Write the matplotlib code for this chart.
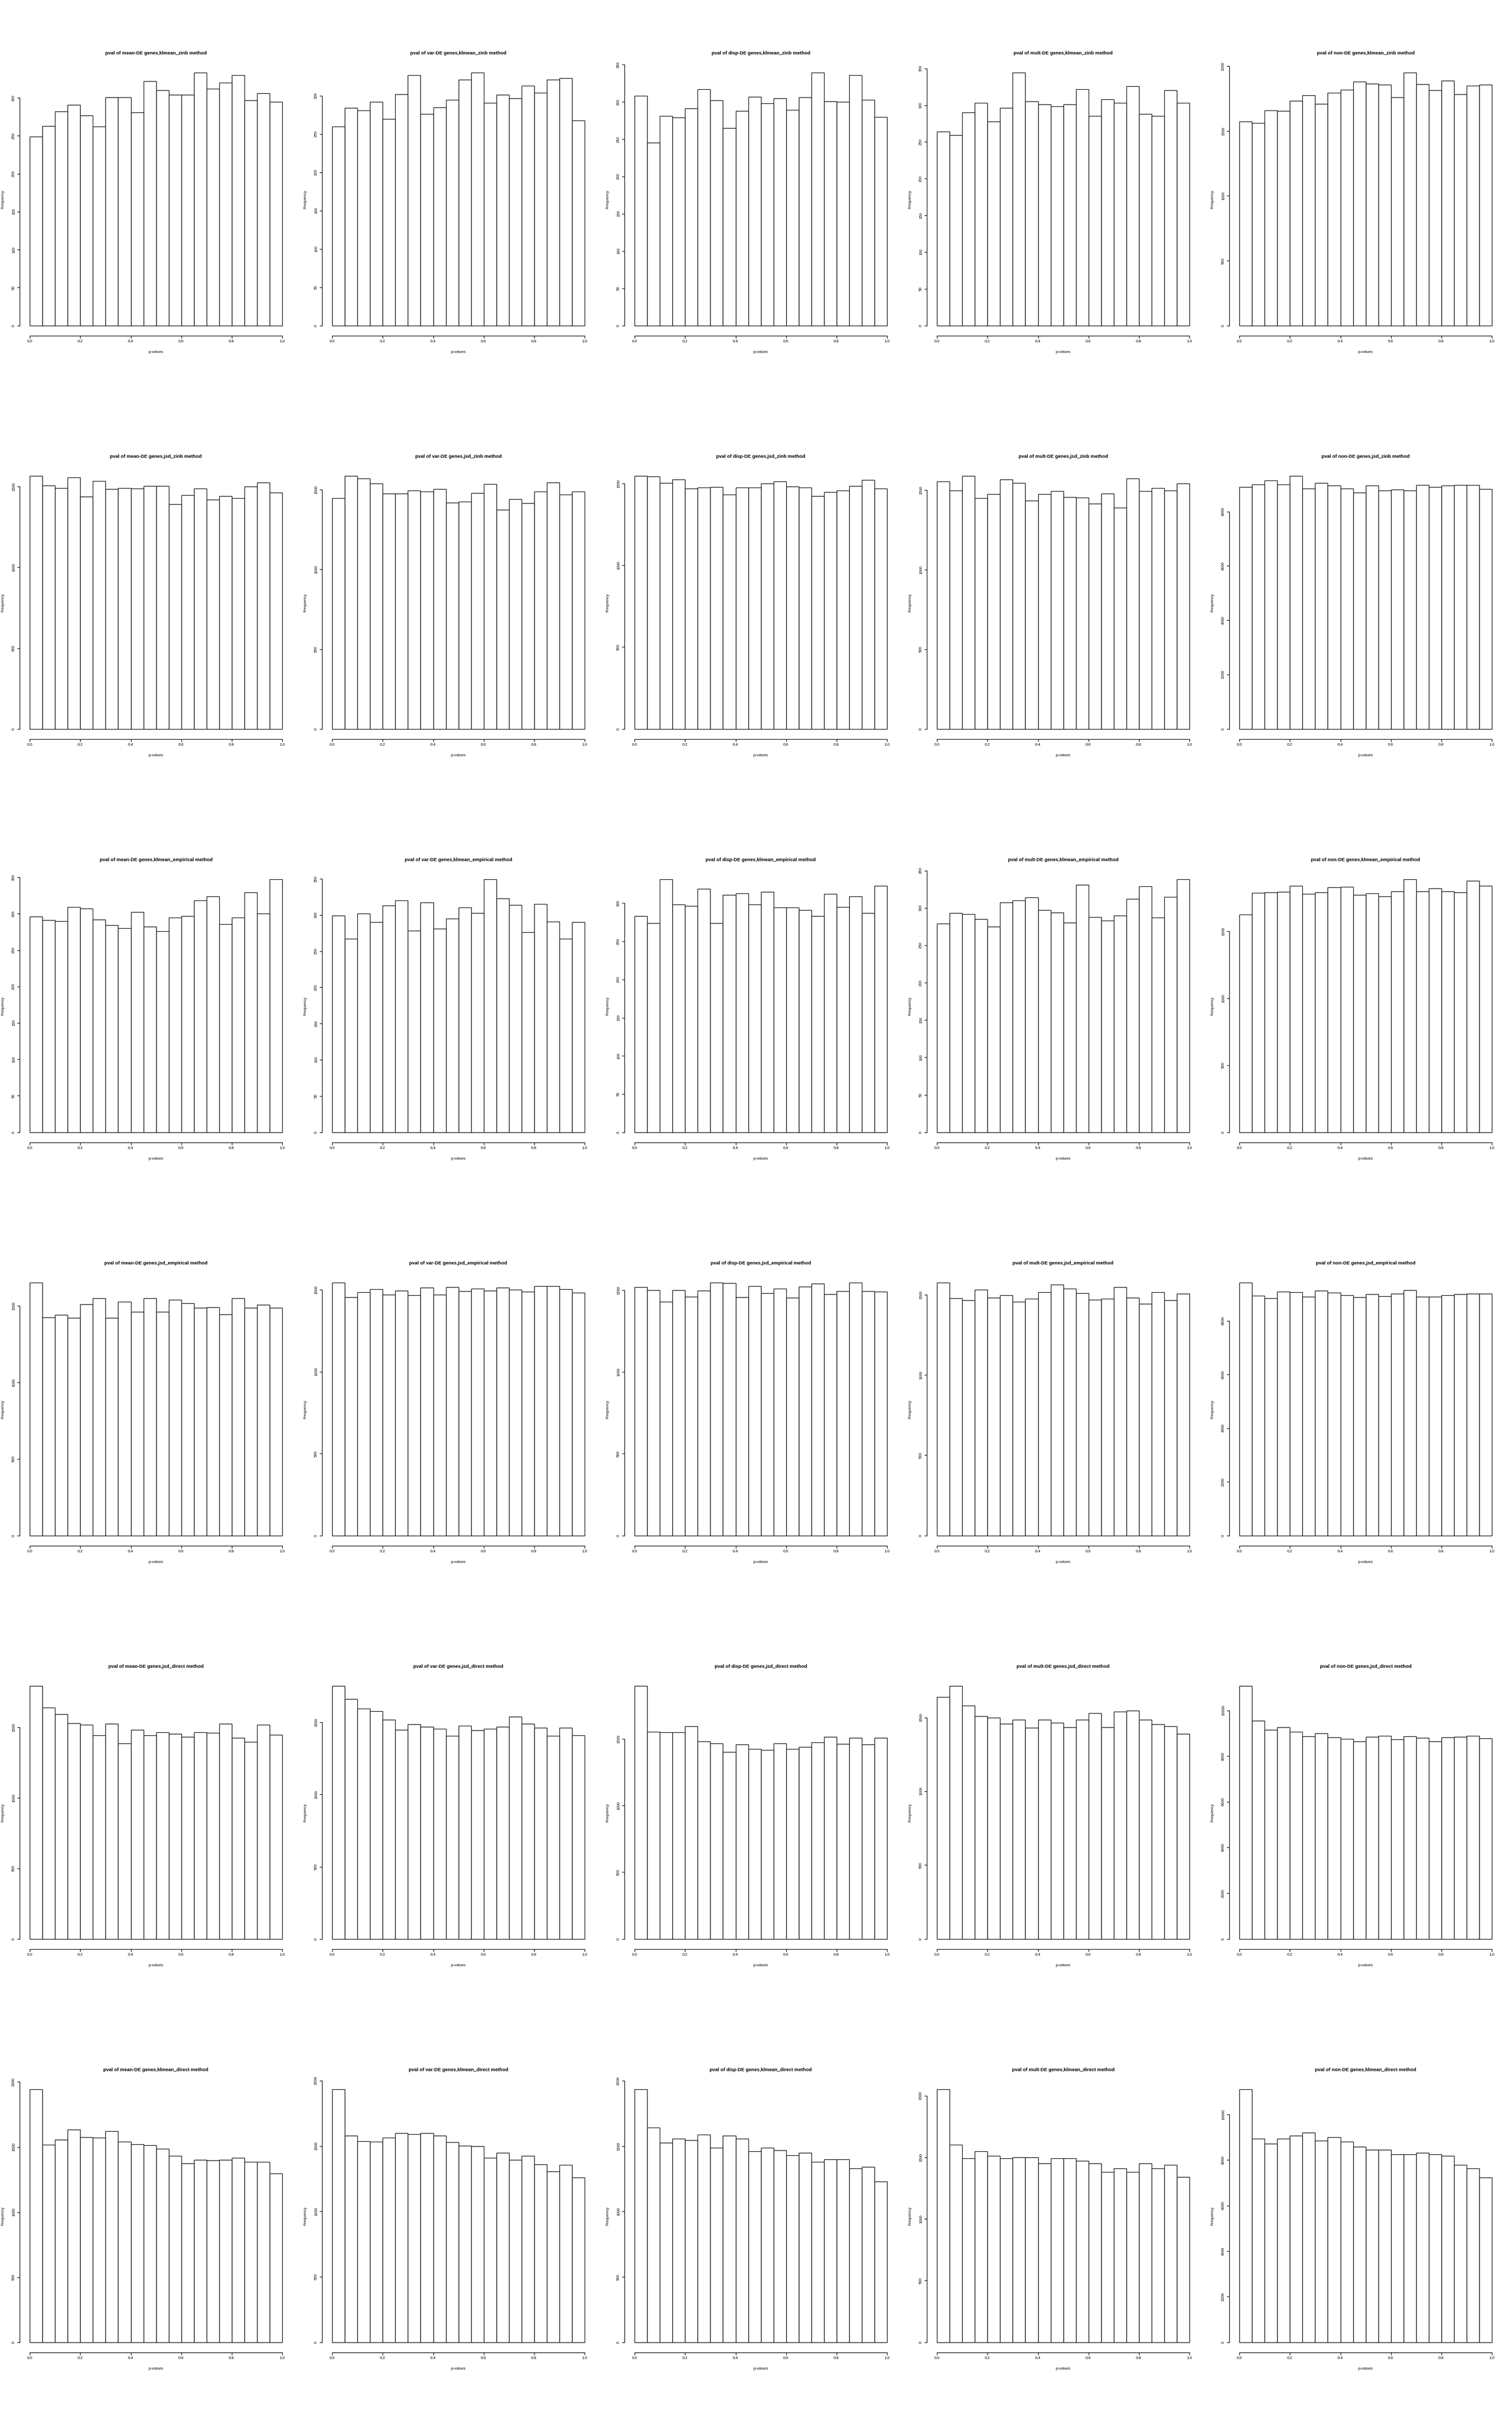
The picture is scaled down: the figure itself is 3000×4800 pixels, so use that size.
import numpy as np
import matplotlib
matplotlib.use("Agg")
import matplotlib.pyplot as plt

# ---------------- data ----------------
gene_types = ["mean-DE", "var-DE", "disp-DE", "mult-DE", "non-DE"]
methods = ["klmean_zinb", "jsd_zinb", "klmean_empirical",
           "jsd_empirical", "jsd_direct", "klmean_direct"]

bin_edges = [0.0, 0.05, 0.1, 0.15, 0.2, 0.25, 0.3, 0.35, 0.4, 0.45, 0.5,
             0.55, 0.6, 0.65, 0.7, 0.75, 0.8, 0.85, 0.9, 0.95, 1.0]
x_ticks = [0.0, 0.2, 0.4, 0.6, 0.8, 1.0]
x_tick_labels = ["0.0", "0.2", "0.4", "0.6", "0.8", "1.0"]

counts_klmean_zinb = [
    [249, 263, 282, 291, 277, 262, 301, 301, 281, 322, 310, 304, 304, 333, 312, 320, 330, 297, 306, 295],
    [260, 284, 281, 292, 270, 302, 327, 276, 285, 295, 321, 330, 291, 301, 297, 313, 304, 321, 323, 268],
    [308, 245, 281, 279, 291, 317, 302, 265, 288, 307, 298, 305, 289, 306, 339, 301, 300, 336, 303, 280],
    [264, 259, 290, 303, 278, 296, 344, 305, 301, 298, 301, 322, 285, 308, 303, 326, 288, 285, 320, 303],
    [1575, 1560, 1660, 1657, 1733, 1775, 1708, 1797, 1819, 1879, 1867, 1859, 1762, 1949, 1863, 1814, 1890, 1783, 1848, 1859],
]
counts_jsd_zinb = [
    [1565, 1508, 1492, 1556, 1439, 1534, 1485, 1492, 1488, 1505, 1505, 1392, 1448, 1488, 1421, 1441, 1430, 1501, 1527, 1464],
    [1447, 1585, 1571, 1539, 1477, 1477, 1495, 1488, 1503, 1420, 1426, 1480, 1537, 1373, 1441, 1417, 1488, 1544, 1468, 1488],
    [1545, 1543, 1504, 1524, 1468, 1477, 1480, 1432, 1476, 1476, 1499, 1511, 1481, 1475, 1424, 1448, 1456, 1484, 1521, 1468],
    [1556, 1499, 1588, 1451, 1475, 1566, 1545, 1433, 1474, 1495, 1456, 1453, 1416, 1478, 1390, 1574, 1495, 1513, 1499, 1543],
    [8909, 9000, 9136, 8992, 9303, 8841, 9053, 8962, 8841, 8705, 8955, 8780, 8818, 8780, 8977, 8909, 8955, 8985, 8970, 8826],
]
counts_klmean_empirical = [
    [296, 291, 290, 309, 307, 292, 284, 280, 302, 282, 276, 295, 297, 318, 324, 286, 295, 329, 300, 347],
    [299, 267, 302, 290, 313, 320, 278, 317, 281, 295, 310, 303, 349, 323, 314, 276, 315, 291, 267, 290],
    [283, 274, 331, 298, 296, 319, 274, 311, 313, 298, 315, 294, 294, 291, 283, 312, 295, 309, 287, 323],
    [279, 293, 292, 285, 275, 307, 310, 314, 297, 294, 280, 331, 288, 283, 290, 312, 329, 287, 315, 338],
    [1624, 1786, 1792, 1793, 1838, 1778, 1790, 1829, 1832, 1772, 1783, 1760, 1800, 1887, 1797, 1820, 1798, 1792, 1878, 1841],
]
counts_jsd_empirical = [
    [1651, 1426, 1441, 1422, 1511, 1552, 1422, 1527, 1460, 1552, 1462, 1539, 1516, 1488, 1491, 1444, 1550, 1489, 1508, 1488],
    [1543, 1456, 1486, 1505, 1472, 1494, 1467, 1515, 1470, 1516, 1492, 1508, 1495, 1515, 1500, 1489, 1524, 1524, 1503, 1484],
    [1519, 1500, 1430, 1499, 1460, 1497, 1545, 1544, 1457, 1526, 1481, 1508, 1453, 1521, 1541, 1475, 1494, 1545, 1495, 1490],
    [1574, 1477, 1465, 1532, 1482, 1496, 1455, 1474, 1515, 1562, 1537, 1509, 1470, 1476, 1546, 1481, 1445, 1517, 1464, 1505],
    [9410, 8927, 8828, 9073, 9057, 8889, 9111, 9042, 8943, 8881, 8981, 8905, 8996, 9134, 8889, 8889, 8943, 8989, 9004, 9011],
]
counts_jsd_direct = [
    [1792, 1640, 1593, 1528, 1519, 1445, 1525, 1385, 1481, 1442, 1464, 1453, 1431, 1464, 1461, 1526, 1424, 1398, 1518, 1446],
    [1751, 1662, 1595, 1577, 1518, 1447, 1487, 1469, 1454, 1407, 1477, 1444, 1456, 1470, 1539, 1491, 1464, 1405, 1462, 1409],
    [1895, 1554, 1548, 1548, 1593, 1480, 1465, 1400, 1457, 1423, 1418, 1465, 1423, 1440, 1472, 1515, 1461, 1508, 1458, 1506],
    [1639, 1712, 1580, 1510, 1500, 1459, 1485, 1430, 1483, 1465, 1434, 1485, 1529, 1434, 1539, 1547, 1486, 1454, 1441, 1390],
    [11063, 9541, 9144, 9252, 9072, 8856, 9009, 8820, 8748, 8640, 8838, 8883, 8739, 8856, 8802, 8640, 8829, 8838, 8883, 8784],
]
counts_klmean_direct = [
    [1942, 1516, 1556, 1635, 1575, 1570, 1622, 1540, 1523, 1515, 1485, 1431, 1374, 1401, 1396, 1402, 1415, 1385, 1385, 1298],
    [1932, 1578, 1536, 1531, 1564, 1600, 1591, 1599, 1578, 1529, 1501, 1498, 1410, 1449, 1393, 1426, 1358, 1304, 1355, 1259],
    [1934, 1644, 1526, 1557, 1546, 1587, 1490, 1581, 1559, 1460, 1490, 1470, 1430, 1450, 1380, 1400, 1400, 1330, 1340, 1230],
    [2050, 1600, 1490, 1550, 1510, 1490, 1500, 1500, 1450, 1490, 1490, 1470, 1450, 1380, 1410, 1380, 1450, 1410, 1440, 1340],
    [11100, 8930, 8720, 8930, 9070, 9200, 8860, 9000, 8800, 8590, 8450, 8450, 8250, 8250, 8320, 8250, 8180, 7780, 7640, 7230],
]
all_counts = {
    "klmean_zinb": counts_klmean_zinb,
    "jsd_zinb": counts_jsd_zinb,
    "klmean_empirical": counts_klmean_empirical,
    "jsd_empirical": counts_jsd_empirical,
    "jsd_direct": counts_jsd_direct,
    "klmean_direct": counts_klmean_direct,
}

# y tick spacing per panel (R pretty() steps)
ytick_steps = {
    "klmean_zinb": [50, 50, 50, 50, 500],
    "jsd_zinb": [500, 500, 500, 500, 2000],
    "klmean_empirical": [50, 50, 50, 50, 500],
    "jsd_empirical": [500, 500, 500, 500, 2000],
    "jsd_direct": [500, 500, 500, 500, 2000],
    "klmean_direct": [500, 500, 500, 500, 2000],
}

# ---------------- drawing ----------------
plt.rcParams['font.family'] = ['Liberation Sans', 'DejaVu Sans']

W, H = 3000, 4800
fig = plt.figure(figsize=(W / 100, H / 100), dpi=100)
fig.patch.set_facecolor('white')

cell_w, cell_h = 600, 800
reg_l, reg_r = 39.3, 579.8      # plot region inside a cell (px)
reg_t, reg_b = 124.4, 665.7
LW = 0.85
small_fs = 5.7
title_fs = 6.8

edges = np.array(bin_edges)
widths = np.diff(edges)

for r, m in enumerate(methods):
    for c, g in enumerate(gene_types):
        counts = np.array(all_counts[m][c], dtype=float)
        M = counts.max()
        x0 = c * cell_w + reg_l
        yb = r * cell_h + reg_b
        ax = fig.add_axes([x0 / W, 1 - yb / H, (reg_r - reg_l) / W, (reg_b - reg_t) / H])
        ax.set_facecolor('none')
        ax.bar(edges[:-1], counts, width=widths, align='edge', fill=False,
               edgecolor='black', linewidth=LW)
        ax.set_xlim(-0.04, 1.04)
        ax.set_ylim(-0.04 * M, 1.04 * M)

        step = ytick_steps[m][c]
        yt = np.arange(0, 1.04 * M + 1e-9, step)
        ax.set_yticks(yt)
        ax.set_yticklabels([str(int(v)) for v in yt])
        ax.set_xticks(x_ticks)
        ax.set_xticklabels(x_tick_labels)

        for s in ['top', 'right']:
            ax.spines[s].set_visible(False)
        ax.spines['left'].set_bounds(0, yt[-1])
        ax.spines['bottom'].set_bounds(0, 1)
        for s in ['left', 'bottom']:
            ax.spines[s].set_linewidth(LW)
            ax.spines[s].set_color('black')
        ax.tick_params(axis='both', direction='out', length=3.5, width=LW,
                       labelsize=small_fs, colors='black')
        ax.tick_params(axis='y', labelrotation=90, pad=2.4)
        ax.tick_params(axis='x', pad=2.6)
        for lab in ax.get_yticklabels():
            lab.set_verticalalignment('center')

        # title, axis labels (R style placement)
        cx = c * cell_w + (reg_l + reg_r) / 2
        fig.text(cx / W, 1 - (r * cell_h + 105.7) / H,
                 "pval of %s genes,%s method" % (g, m),
                 ha='center', va='center', fontsize=title_fs, fontweight='bold')
        fig.text(cx / W, 1 - (r * cell_h + 699) / H, "p-values",
                 ha='center', va='center', fontsize=small_fs)
        fig.text((c * cell_w + 6) / W, 1 - (r * cell_h + (reg_t + reg_b) / 2) / H,
                 "Frequency", ha='center', va='center', rotation=90, fontsize=small_fs)

fig.savefig("out.png", dpi=100, facecolor='white')
